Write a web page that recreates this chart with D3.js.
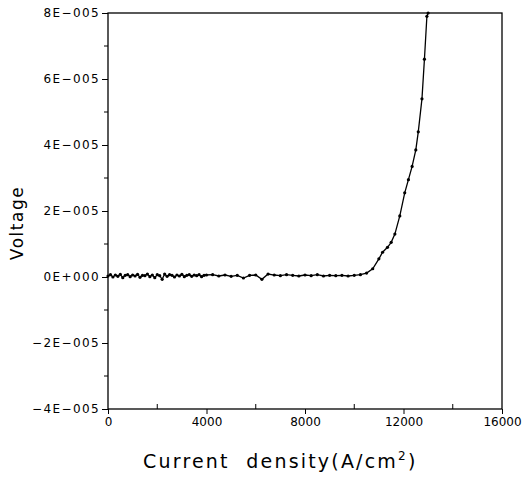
<!DOCTYPE html>
<html>
<head>
<meta charset="utf-8">
<script src="https://cdn.jsdelivr.net/npm/d3@7"></script>
<style>
body{margin:0;background:#fff;}
svg text{font-family:"DejaVu Sans",sans-serif;fill:#000;}
</style>
</head>
<body>
<div id="chart"></div>
<script>
// current density (A/cm2) and voltage (in units of 1E-005)
const current=[0,100,200,300,400,500,600,700,800,900,1000,1100,1200,1300,1400,1500,1600,1700,1800,1900,2000,
  2100,2200,2300,2400,2500,2600,2700,2800,2900,3000,3100,3200,3300,3400,3500,3600,3700,3800,3900,4000,
  4250,4500,4750,5000,5250,5500,5750,6000,6250,6500,6750,7000,7250,7500,7750,8000,8250,8500,8750,9000,
  9250,9500,9750,10000,10250,10500,10750,11000,11150,11350,11500,11650,11850,12050,12200,12350,12500,
  12600,12750,12850,12950,13000];
const voltage=[0.03,0.07,0.00,0.06,0.02,0.08,-0.02,0.05,0.07,0.01,0.06,0.03,0.08,-0.01,0.05,0.04,0.09,0.01,0.06,-0.02,0.07,
  0.04,-0.07,0.09,0.02,0.07,0.05,0.00,0.06,0.03,0.08,0.01,0.05,0.07,0.02,0.06,0.04,0.07,0.01,0.05,0.06,
  0.07,0.03,0.06,0.02,0.05,-0.03,0.05,0.06,-0.07,0.09,0.06,0.04,0.07,0.05,0.03,0.06,0.04,0.07,0.03,0.05,
  0.04,0.05,0.03,0.05,0.07,0.12,0.25,0.55,0.75,0.90,1.05,1.30,1.85,2.55,2.95,3.35,3.85,
  4.40,5.40,6.60,7.90,8.00];
const xTicks=[0,4000,8000,12000,16000];
const xMinor=[2000,6000,10000,14000];
const yTicks=[8,6,4,2,0,-2,-4];
const yLabels=["8E\u2212005","6E\u2212005","4E\u2212005","2E\u2212005","0E+000","\u22122E\u2212005","\u22124E\u2212005"];
const yMinor=[7,5,3,1,-1,-3];

const width=526, height=483;
const margin={top:13,right:24,bottom:74,left:108};

const svg=d3.select('#chart').append('svg')
  .attr('width',width).attr('height',height);

const x=d3.scaleLinear().domain([0,16000]).range([margin.left,width-margin.right]);
const y=d3.scaleLinear().domain([-4,8]).range([height-margin.bottom,margin.top]);

// frame
svg.append('rect')
  .attr('x',x(0)).attr('y',y(8))
  .attr('width',x(16000)-x(0)).attr('height',y(-4)-y(8))
  .attr('fill','none').attr('stroke','#000').attr('stroke-width',1.3);

// x axis
const xAxis=g=>{
  g.attr('transform',`translate(0,${y(-4)})`)
    .call(d3.axisBottom(x).tickValues(xTicks).tickSize(5).tickPadding(3).tickFormat(d3.format('d')))
    .call(g=>g.select('.domain').remove())
    .attr('font-size','12px');
}
svg.append('g').call(xAxis);
svg.append('g').attr('transform',`translate(0,${y(-4)})`)
  .selectAll('line').data(xMinor).join('line')
  .attr('x1',d=>x(d)).attr('x2',d=>x(d)).attr('y1',0).attr('y2',-5)
  .attr('stroke','#000');

// y axis
const yAxis=g=>{
  g.attr('transform',`translate(${x(0)},0)`)
    .call(d3.axisLeft(y).tickValues(yTicks).tickSize(6).tickPadding(2).tickFormat((d,i)=>yLabels[i]))
    .call(g=>g.select('.domain').remove())
    .attr('font-size','12px');
}
svg.append('g').call(yAxis);
svg.append('g').attr('transform',`translate(${x(0)},0)`)
  .selectAll('line').data(yMinor).join('line')
  .attr('x1',0).attr('x2',-4).attr('y1',d=>y(d)).attr('y2',d=>y(d))
  .attr('stroke','#000');

svg.selectAll('.tick text').attr('fill','#000');
svg.selectAll('.tick line').attr('stroke','#000');
svg.selectAll('.tick text').filter(function(){return this.textContent.includes('E');})
  .attr('letter-spacing','1.4px');

// data line
const pts=current.map((c,i)=>[c,voltage[i]]);
svg.append('path')
  .datum(pts)
  .attr('fill','none').attr('stroke','#000').attr('stroke-width',1.3)
  .attr('d',d3.line().x(d=>x(d[0])).y(d=>y(d[1])));

svg.append('g').selectAll('circle').data(pts).join('circle')
  .attr('cx',d=>x(d[0])).attr('cy',d=>y(d[1])).attr('r',1.6).attr('fill','#000');

// axis titles
svg.append('text')
  .attr('x',143).attr('y',468)
  .style('white-space','pre')
  .attr('font-size','19px').attr('letter-spacing','2.2px')
  .html('Current  density(A/cm<tspan dy="-8" font-size="12px">2</tspan><tspan dy="8">)</tspan>');

svg.append('text')
  .attr('transform','translate(23,223) rotate(-90)')
  .attr('text-anchor','middle').attr('font-size','17px').attr('letter-spacing','1.5px')
  .text('Voltage');
</script>
</body>
</html>
